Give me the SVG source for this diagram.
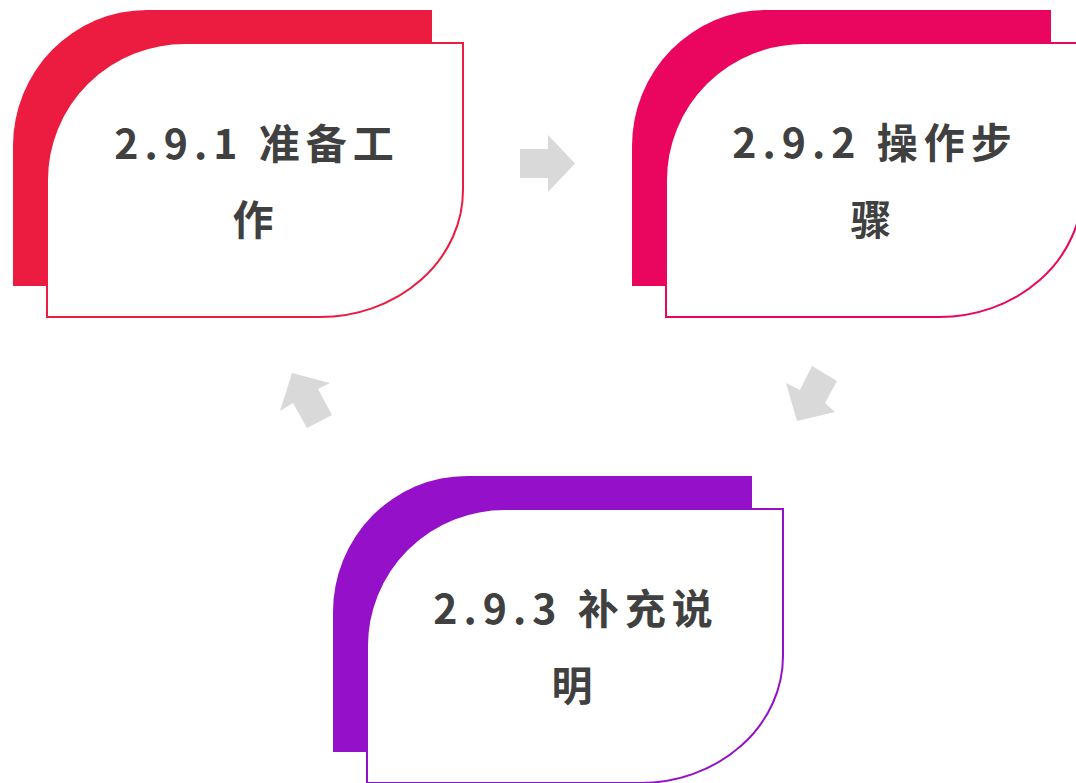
<svg xmlns="http://www.w3.org/2000/svg" width="1076" height="783" viewBox="0 0 1076 783">
<style>
.front{fill:#fff;stroke-width:2}
.lbl{font-family:"Noto Sans CJK SC","Noto Sans",sans-serif;font-weight:bold;font-size:41px;letter-spacing:6px;fill:#404040;text-anchor:middle}
.arrow{fill:#D9D9D9}
</style>
<defs>
<path id="backShape" d="M13,286 L13,146 A134,136 0 0 1 147,10 L432,10 L432,160 A140,126 0 0 1 292,286 Z"/>
<path id="frontShape" d="M47,317 L47,180 A138,137 0 0 1 185,43 L463,43 L463,190 A143,127 0 0 1 320,317 Z"/>
</defs>
<g id="connectors">
<polygon class="arrow" points="520,149 548,149 548,135 575,163.5 548,192 548,178 520,178"/>
<polygon class="arrow" points="812,366 837,381 825,403 835,412 797,421 786,383 800,390"/>
<polygon class="arrow" points="292,373 330,383 318,389 332,415 307,428 293,403 280,411"/>
</g>
<g id="node1">
<use href="#backShape" fill="#EB1C3F"/>
<use href="#frontShape" class="front" stroke="#EB1C3F"/>
<text class="lbl" x="257" y="159">2.9.1 准备工</text>
<text class="lbl" x="256" y="235">作</text>
</g>
<g id="node2" transform="translate(619,0)">
<use href="#backShape" fill="#EA055E"/>
<use href="#frontShape" class="front" stroke="#EA055E"/>
<text class="lbl" x="256" y="158">2.9.2 操作步</text>
<text class="lbl" x="255" y="235">骤</text>
</g>
<g id="node3" transform="translate(320,466)">
<use href="#backShape" fill="#9410C9"/>
<use href="#frontShape" class="front" stroke="#9410C9"/>
<text class="lbl" x="256" y="158">2.9.3 补充说</text>
<text class="lbl" x="255" y="235">明</text>
</g>
</svg>
